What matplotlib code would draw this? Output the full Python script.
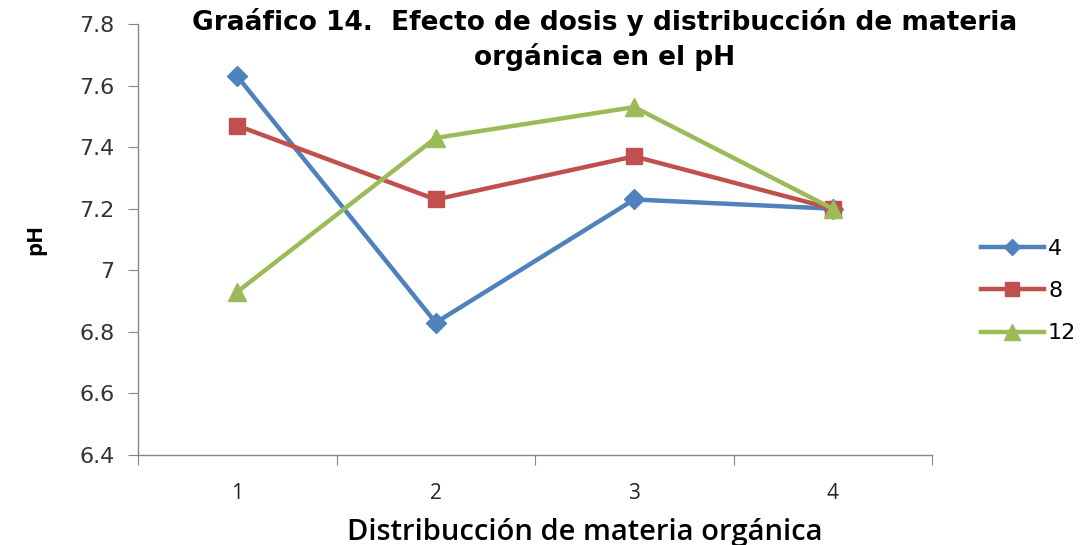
import matplotlib.pyplot as plt
import numpy as np

# data
categories = ['1', '2', '3', '4']
dose_labels = ['4', '8', '12']
ph_dose_4 = [7.63, 6.83, 7.23, 7.20]
ph_dose_8 = [7.47, 7.23, 7.37, 7.20]
ph_dose_12 = [6.93, 7.43, 7.53, 7.20]
y_ticks = [6.4, 6.6, 6.8, 7.0, 7.2, 7.4, 7.6, 7.8]
y_tick_labels = ['6.4', '6.6', '6.8', '7', '7.2', '7.4', '7.6', '7.8']

colors = ['#4F81BD', '#C0504D', '#9BBB59']
markers = ['D', 's', '^']
msizes = [10, 12, 13]

fig = plt.figure(figsize=(10.86, 5.45), dpi=100)
ax = fig.add_axes([138 / 1086, 1 - 455 / 545, (932 - 138) / 1086, (455 - 24) / 545])

x = np.arange(1, len(categories) + 1)
for vals, lab, c, m, ms in zip([ph_dose_4, ph_dose_8, ph_dose_12], dose_labels, colors, markers, msizes):
    ax.plot(x, vals, color=c, marker=m, markersize=ms, linewidth=3.2, label=lab,
            markeredgecolor=c)

ax.set_xlim(0.5, len(categories) + 0.5)
ax.set_ylim(6.4, 7.8)
ax.set_yticks(y_ticks)
ax.set_yticklabels(y_tick_labels, fontsize=16, color='#333333')

# category ticks between categories, labels centered
ax.set_xticks(np.arange(0.5, len(categories) + 1, 1))
ax.set_xticklabels([])
ax.set_xticks(x, minor=True)
ax.set_xticklabels(categories, minor=True, fontsize=15, family='Open Sans', color='#222222')
ax.tick_params(axis='x', which='minor', length=0, pad=20)
ax.tick_params(axis='x', which='major', length=7, color='#868686')
ax.tick_params(axis='y', length=7, color='#868686', pad=10)

for s in ['top', 'right']:
    ax.spines[s].set_visible(False)
for s in ['left', 'bottom']:
    ax.spines[s].set_color('#868686')
    ax.spines[s].set_linewidth(1)

ax.set_xlabel('Distribucción de materia orgánica', fontsize=21, family='Open Sans',
              fontweight='semibold', va='center')
ax.xaxis.set_label_coords(0.563, -0.18)
ax.set_ylabel('pH', fontsize=16, fontweight='bold', family='Open Sans', labelpad=24)

fig.text(0.557, 0.986, 'Graáfico 14.  Efecto de dosis y distribucción de materia\norgánica en el pH',
         ha='center', va='top', fontsize=19, fontweight='bold', family='DejaVu Sans',
         linespacing=1.35)

ax.legend(loc='center left', bbox_to_anchor=(1.037, 0.38), frameon=False, fontsize=16,
          handlelength=2.8, labelspacing=1.0, handletextpad=0.2, markerscale=0.85)

fig.savefig('out.png', dpi=100)
